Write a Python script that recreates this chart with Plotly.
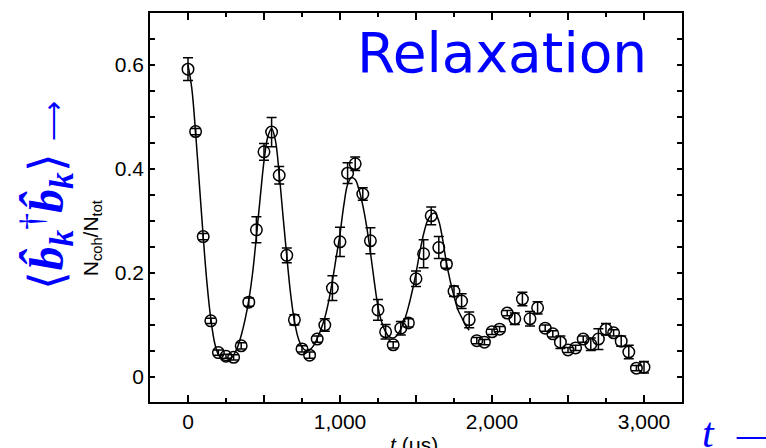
import plotly.graph_objects as go

# ---- data ----
t_data = [0, 50, 100, 150, 200, 250, 300, 350, 400, 450, 500, 550, 600, 650, 700, 750,
          800, 850, 900, 950, 1000, 1050, 1100, 1150, 1200, 1250, 1300, 1350, 1400, 1450,
          1500, 1550, 1600, 1650, 1700, 1750, 1800, 1850, 1900, 1950, 2000, 2050, 2100,
          2150, 2200, 2250, 2300, 2350, 2400, 2450, 2500, 2550, 2600, 2650, 2700, 2750,
          2800, 2850, 2900, 2950, 3000]
n_data = [0.592, 0.472, 0.270, 0.108, 0.047, 0.040, 0.038, 0.060, 0.144, 0.283, 0.433,
          0.471, 0.388, 0.234, 0.110, 0.054, 0.042, 0.073, 0.100, 0.171, 0.260, 0.392,
          0.410, 0.352, 0.262, 0.129, 0.087, 0.062, 0.094, 0.104, 0.189, 0.237, 0.310,
          0.249, 0.217, 0.165, 0.146, 0.110, 0.070, 0.067, 0.087, 0.092, 0.123, 0.112,
          0.150, 0.112, 0.133, 0.094, 0.083, 0.067, 0.052, 0.056, 0.073, 0.063, 0.073,
          0.092, 0.085, 0.069, 0.048, 0.017, 0.019]
n_err = [0.022, 0.006, 0.006, 0.005, 0.005, 0.004, 0.005, 0.006, 0.008, 0.025, 0.016,
         0.028, 0.017, 0.014, 0.010, 0.006, 0.006, 0.006, 0.012, 0.024, 0.028, 0.020,
         0.013, 0.012, 0.025, 0.020, 0.014, 0.006, 0.013, 0.008, 0.015, 0.027, 0.017,
         0.021, 0.008, 0.010, 0.014, 0.015, 0.006, 0.005, 0.005, 0.005, 0.005, 0.011,
         0.013, 0.014, 0.012, 0.006, 0.006, 0.012, 0.005, 0.005, 0.006, 0.012, 0.020,
         0.011, 0.006, 0.010, 0.013, 0.005, 0.011]

t_fit = [0, 25, 50, 75, 100, 125, 150, 175, 200, 225, 250, 275, 300, 325, 350, 375, 400,
         425, 450, 475, 500, 525, 550, 575, 600, 625, 650, 675, 700, 725, 750, 775, 800,
         825, 850, 875, 900, 925, 950, 975, 1000, 1025, 1050, 1075, 1100, 1125, 1150,
         1175, 1200, 1225, 1250, 1275, 1300, 1325, 1350, 1375, 1400, 1425, 1450, 1475,
         1500, 1525, 1550, 1575, 1600, 1625, 1650, 1675, 1700, 1725, 1750, 1775, 1800,
         1825, 1850]
n_fit = [0.600, 0.555, 0.470, 0.370, 0.270, 0.180, 0.112, 0.066, 0.043, 0.034, 0.032,
         0.034, 0.042, 0.057, 0.080, 0.110, 0.148, 0.200, 0.270, 0.345, 0.415, 0.462,
         0.478, 0.455, 0.390, 0.310, 0.232, 0.160, 0.108, 0.075, 0.058, 0.051, 0.052,
         0.060, 0.074, 0.092, 0.114, 0.145, 0.185, 0.230, 0.275, 0.330, 0.370, 0.383,
         0.380, 0.360, 0.330, 0.290, 0.240, 0.185, 0.135, 0.105, 0.087, 0.077, 0.075,
         0.080, 0.092, 0.110, 0.135, 0.165, 0.200, 0.240, 0.275, 0.300, 0.312, 0.315,
         0.300, 0.265, 0.220, 0.185, 0.155, 0.130, 0.115, 0.100, 0.090]

x_tickvals = [0, 500, 1000, 1500, 2000, 2500, 3000]
x_ticktext = ["0", "", "1,000", "", "2,000", "", "3,000"]
y_tickvals = [0, 0.05, 0.1, 0.15, 0.2, 0.25, 0.3, 0.35, 0.4, 0.45, 0.5, 0.55, 0.6, 0.65, 0.7]
y_ticktext = ["0", "", "", "", "0.2", "", "", "", "0.4", "", "", "", "0.6", "", ""]

fig = go.Figure()
fig.add_trace(go.Scatter(x=t_fit, y=n_fit, mode="lines", line=dict(color="black", width=1.5, shape="spline"),
                         showlegend=False, hoverinfo="skip"))
fig.add_trace(go.Scatter(x=t_data, y=n_data, mode="markers",
                         marker=dict(symbol="circle-open", size=11.5, color="black", line=dict(width=1.5)),
                         error_y=dict(type="data", array=n_err, color="black", thickness=1.5, width=5),
                         showlegend=False))

axis_font = dict(family="Liberation Sans, Arial, sans-serif", size=21, color="black")
fig.update_xaxes(range=[-250, 3250], showline=True, linecolor="black", linewidth=1.5, mirror="ticks",
                 ticks="inside", ticklen=7, tickwidth=1.5, tickcolor="black",
                 tickmode="array", tickvals=x_tickvals, ticktext=x_ticktext, tickfont=axis_font,
                 minor=dict(ticks="inside", dtick=250, tick0=0, ticklen=4, tickwidth=1.5, tickcolor="black"),
                 showgrid=False, zeroline=False)
fig.update_yaxes(range=[-0.048, 0.7], showline=True, linecolor="black", linewidth=1.5, mirror="ticks",
                 ticks="inside", ticklen=5, tickwidth=1.5, tickcolor="black",
                 tickmode="array", tickvals=y_tickvals, ticktext=y_ticktext, tickfont=axis_font,
                 showgrid=False, zeroline=False)

fig.update_layout(width=766, height=448, margin=dict(l=150, r=84, t=13, b=46),
                  paper_bgcolor="white", plot_bgcolor="white")

fig.add_annotation(text="Relaxation", xref="paper", yref="paper", x=0.938, y=0.897,
                   xanchor="right", yanchor="middle", showarrow=False,
                   font=dict(family="DejaVu Sans", size=55, color="#0000FF"))
fig.add_annotation(text="N<sub>coh</sub>/N<sub>tot</sub>", xref="paper", yref="paper", x=-0.109, y=0.421,
                   xanchor="center", yanchor="middle", textangle=-90, showarrow=False,
                   font=dict(family="Liberation Sans, Arial", size=21, color="black"))
fig.add_annotation(text="<i>t</i> (μs)", xref="paper", yref="paper", x=0.496, y=0,
                   xanchor="center", yanchor="top", yshift=-29, showarrow=False,
                   font=dict(family="Liberation Sans, Arial", size=21, color="black"))
fig.add_annotation(text="<i>t</i>  <span style='font-size:28px'>\u27f6</span>", xref="paper", yref="paper",
                   x=1.034, y=-0.08, xanchor="left", yanchor="middle", showarrow=False,
                   font=dict(family="Liberation Serif", size=42, color="#0000FF"))
fig.add_annotation(text="⟨<b><i>b\u0302</i></b><sub><b><i>k</i></b></sub><sup>†</sup><b><i>b\u0302</i></b><sub><b><i>k</i></b></sub>⟩\u00a0<span style='font-size:28px'>\u27f6</span>",
                   xref="paper", yref="paper", x=-0.194, y=0.53,
                   xanchor="center", yanchor="middle", textangle=-90, showarrow=False,
                   font=dict(family="Liberation Serif", size=48, color="#0000FF"))

fig.write_html("out.html")
